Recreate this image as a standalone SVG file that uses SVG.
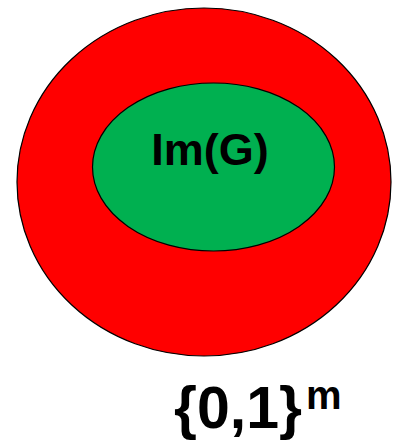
<svg xmlns="http://www.w3.org/2000/svg" width="395" height="441" viewBox="0 0 395 441">
<style>
.lbl{font-family:"Liberation Sans",Arial,sans-serif;font-weight:bold;fill:#000}
</style>
<rect width="395" height="441" fill="#fff"/>
<g id="outer">
<ellipse cx="204" cy="182" rx="187" ry="174" fill="#ff0000" stroke="#000" stroke-width="1.2"/>
</g>
<g id="inner">
<ellipse cx="213.5" cy="167" rx="121" ry="84" fill="#00b050" stroke="#000" stroke-width="1.2"/>
<text class="lbl" x="210" y="165" font-size="45" text-anchor="middle">Im(G)</text>
</g>
<g id="label">
<text class="lbl" x="174" y="428" font-size="59">{0,1}</text>
<text class="lbl" x="306" y="409" font-size="40">m</text>
</g>
</svg>
